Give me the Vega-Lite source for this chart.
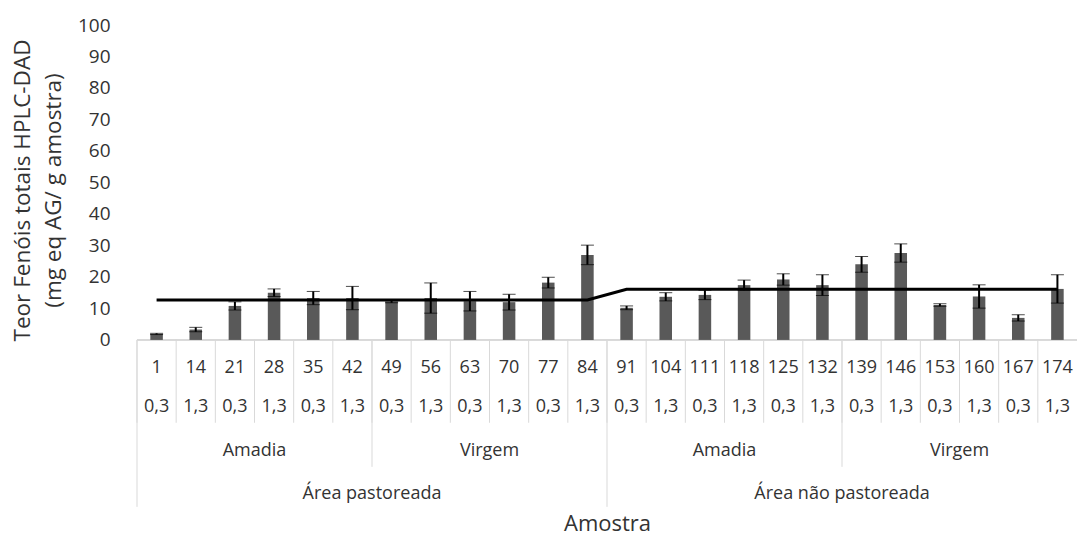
{
  "$schema": "https://vega.github.io/schema/vega-lite/v6.json",
  "width": 940,
  "height": 485,
  "autosize": {"type": "none"},
  "padding": {"left": 137, "top": 25, "right": 0, "bottom": 29},
  "background": "white",
  "config": {"view": {"stroke": null}, "font": "Open Sans", "text": {"font": "Open Sans", "color": "#333333"}},
  "datasets": {
    "amostras": [
      {"amostra": "1", "dose": "0,3", "tipo": "Amadia", "area": "Área pastoreada", "media": 1.9, "dp": 0.2, "media_area": 12.7},
      {"amostra": "14", "dose": "1,3", "tipo": "Amadia", "area": "Área pastoreada", "media": 3.3, "dp": 0.7, "media_area": 12.7},
      {"amostra": "21", "dose": "0,3", "tipo": "Amadia", "area": "Área pastoreada", "media": 10.8, "dp": 1.3, "media_area": 12.7},
      {"amostra": "28", "dose": "1,3", "tipo": "Amadia", "area": "Área pastoreada", "media": 15.0, "dp": 1.2, "media_area": 12.7},
      {"amostra": "35", "dose": "0,3", "tipo": "Amadia", "area": "Área pastoreada", "media": 13.3, "dp": 2.1, "media_area": 12.7},
      {"amostra": "42", "dose": "1,3", "tipo": "Amadia", "area": "Área pastoreada", "media": 13.3, "dp": 3.7, "media_area": 12.7},
      {"amostra": "49", "dose": "0,3", "tipo": "Virgem", "area": "Área pastoreada", "media": 12.1, "dp": 0.3, "media_area": 12.7},
      {"amostra": "56", "dose": "1,3", "tipo": "Virgem", "area": "Área pastoreada", "media": 13.3, "dp": 4.8, "media_area": 12.7},
      {"amostra": "63", "dose": "0,3", "tipo": "Virgem", "area": "Área pastoreada", "media": 12.3, "dp": 3.1, "media_area": 12.7},
      {"amostra": "70", "dose": "1,3", "tipo": "Virgem", "area": "Área pastoreada", "media": 12.0, "dp": 2.5, "media_area": 12.7},
      {"amostra": "77", "dose": "0,3", "tipo": "Virgem", "area": "Área pastoreada", "media": 18.2, "dp": 1.7, "media_area": 12.7},
      {"amostra": "84", "dose": "1,3", "tipo": "Virgem", "area": "Área pastoreada", "media": 27.0, "dp": 3.1, "media_area": 12.7},
      {"amostra": "91", "dose": "0,3", "tipo": "Amadia", "area": "Área não pastoreada", "media": 10.2, "dp": 0.6, "media_area": 16.1},
      {"amostra": "104", "dose": "1,3", "tipo": "Amadia", "area": "Área não pastoreada", "media": 13.7, "dp": 1.3, "media_area": 16.1},
      {"amostra": "111", "dose": "0,3", "tipo": "Amadia", "area": "Área não pastoreada", "media": 14.3, "dp": 1.5, "media_area": 16.1},
      {"amostra": "118", "dose": "1,3", "tipo": "Amadia", "area": "Área não pastoreada", "media": 17.4, "dp": 1.6, "media_area": 16.1},
      {"amostra": "125", "dose": "0,3", "tipo": "Amadia", "area": "Área não pastoreada", "media": 19.2, "dp": 1.8, "media_area": 16.1},
      {"amostra": "132", "dose": "1,3", "tipo": "Amadia", "area": "Área não pastoreada", "media": 17.4, "dp": 3.3, "media_area": 16.1},
      {"amostra": "139", "dose": "0,3", "tipo": "Virgem", "area": "Área não pastoreada", "media": 24.0, "dp": 2.5, "media_area": 16.1},
      {"amostra": "146", "dose": "1,3", "tipo": "Virgem", "area": "Área não pastoreada", "media": 27.6, "dp": 2.9, "media_area": 16.1},
      {"amostra": "153", "dose": "0,3", "tipo": "Virgem", "area": "Área não pastoreada", "media": 11.1, "dp": 0.4, "media_area": 16.1},
      {"amostra": "160", "dose": "1,3", "tipo": "Virgem", "area": "Área não pastoreada", "media": 13.8, "dp": 3.7, "media_area": 16.1},
      {"amostra": "167", "dose": "0,3", "tipo": "Virgem", "area": "Área não pastoreada", "media": 7.0, "dp": 1.0, "media_area": 16.1},
      {"amostra": "174", "dose": "1,3", "tipo": "Virgem", "area": "Área não pastoreada", "media": 16.2, "dp": 4.5, "media_area": 16.1}
    ],
    "grupos": [
      {"amostra": "21", "nivel": "tipo", "label": "Amadia"},
      {"amostra": "63", "nivel": "tipo", "label": "Virgem"},
      {"amostra": "111", "nivel": "tipo", "label": "Amadia"},
      {"amostra": "153", "nivel": "tipo", "label": "Virgem"},
      {"amostra": "42", "nivel": "area", "label": "Área pastoreada"},
      {"amostra": "132", "nivel": "area", "label": "Área não pastoreada"}
    ],
    "divisorias": [
      {"amostra": "49", "nivel": "tipo"},
      {"amostra": "139", "nivel": "tipo"},
      {"amostra": "1", "nivel": "area"},
      {"amostra": "91", "nivel": "area"}
    ]
  },
  "data": {"name": "amostras"},
  "layer": [
    {
      "mark": {"type": "rule", "color": "#d9d9d9", "strokeWidth": 1},
      "encoding": {"y": {"datum": 0, "type": "quantitative"}}
    },
    {
      "mark": {"type": "rule", "color": "#d9d9d9", "strokeWidth": 1},
      "encoding": {
        "x": {"field": "amostra", "type": "nominal", "title": "Amostra", "bandPosition": 0, "scale": {"domain": ["1","14","21","28","35","42","49","56","63","70","77","84","91","104","111","118","125","132","139","146","153","160","167","174"], "paddingInner": 0, "paddingOuter": 0}},
        "y": {"datum": 0, "type": "quantitative"},
        "y2": {"datum": -26.3}
      }
    },
    {
      "data": {"name": "divisorias"},
      "transform": [{"filter": "datum.nivel === 'tipo'"}],
      "mark": {"type": "rule", "color": "#d9d9d9", "strokeWidth": 1},
      "encoding": {
        "x": {"field": "amostra", "type": "nominal", "title": "Amostra", "bandPosition": 0},
        "y": {"datum": 0, "type": "quantitative"},
        "y2": {"datum": -40.3}
      }
    },
    {
      "data": {"name": "divisorias"},
      "transform": [{"filter": "datum.nivel === 'area'"}],
      "mark": {"type": "rule", "color": "#d9d9d9", "strokeWidth": 1},
      "encoding": {
        "x": {"field": "amostra", "type": "nominal", "title": "Amostra", "bandPosition": 0},
        "y": {"datum": 0, "type": "quantitative"},
        "y2": {"datum": -53}
      }
    },
    {
      "mark": {"type": "bar", "color": "#595959", "width": {"band": 0.32}},
      "encoding": {
        "x": {"field": "amostra", "type": "nominal", "title": "Amostra", "axis": {"labels": false, "ticks": false, "domain": false, "grid": false, "titleFontSize": 22, "titleFontWeight": "normal", "titleColor": "#333333", "titleFont": "Open Sans", "titleBaseline": "middle", "titleY": 13, "titlePadding": 0}},
        "y": {
          "field": "media", "type": "quantitative",
          "title": ["Teor Fenóis totais HPLC-DAD", "(mg eq AG/ g amostra)"],
          "scale": {"domain": [-54, 100], "nice": false, "zero": false},
          "axis": {
            "values": [0, 10, 20, 30, 40, 50, 60, 70, 80, 90, 100],
            "grid": false, "domain": false, "ticks": false, "tickSize": 0,
            "labelPadding": 27, "labelFontSize": 19, "labelColor": "#333333", "labelFont": "Open Sans",
            "titleFontSize": 22.5, "titleFontWeight": "normal", "titleColor": "#333333", "titleFont": "Open Sans",
            "titleX": -115, "titleY": 165, "titleLineHeight": 31, "titleBaseline": "middle", "titleAlign": "center", "titleAngle": -90
          }
        }
      }
    },
    {
      "mark": {"type": "errorbar", "ticks": {"color": "black", "strokeWidth": 2}, "rule": {"color": "black", "strokeWidth": 2}, "size": 13},
      "encoding": {
        "x": {"field": "amostra", "type": "nominal", "title": "Amostra"},
        "y": {"field": "media", "type": "quantitative", "title": ["Teor Fenóis totais HPLC-DAD", "(mg eq AG/ g amostra)"]},
        "yError": {"field": "dp"}
      }
    },
    {
      "mark": {"type": "line", "color": "black", "strokeWidth": 3},
      "encoding": {
        "x": {"field": "amostra", "type": "nominal", "title": "Amostra"},
        "y": {"field": "media_area", "type": "quantitative", "title": ["Teor Fenóis totais HPLC-DAD", "(mg eq AG/ g amostra)"]}
      }
    },
    {
      "mark": {"type": "text", "fontSize": 18, "baseline": "middle", "align": "center"},
      "encoding": {
        "x": {"field": "amostra", "type": "nominal", "title": "Amostra"},
        "y": {"datum": -8.9, "type": "quantitative"},
        "text": {"field": "amostra"}
      }
    },
    {
      "mark": {"type": "text", "fontSize": 18, "baseline": "middle", "align": "center"},
      "encoding": {
        "x": {"field": "amostra", "type": "nominal", "title": "Amostra"},
        "y": {"datum": -21.3, "type": "quantitative"},
        "text": {"field": "dose"}
      }
    },
    {
      "data": {"name": "grupos"},
      "transform": [{"filter": "datum.nivel === 'tipo'"}],
      "mark": {"type": "text", "fontSize": 18, "baseline": "middle", "align": "center"},
      "encoding": {
        "x": {"field": "amostra", "type": "nominal", "title": "Amostra", "bandPosition": 1},
        "y": {"datum": -35.2, "type": "quantitative"},
        "text": {"field": "label"}
      }
    },
    {
      "data": {"name": "grupos"},
      "transform": [{"filter": "datum.nivel === 'area'"}],
      "mark": {"type": "text", "fontSize": 18, "baseline": "middle", "align": "center"},
      "encoding": {
        "x": {"field": "amostra", "type": "nominal", "title": "Amostra", "bandPosition": 1},
        "y": {"datum": -49, "type": "quantitative"},
        "text": {"field": "label"}
      }
    }
  ]
}
